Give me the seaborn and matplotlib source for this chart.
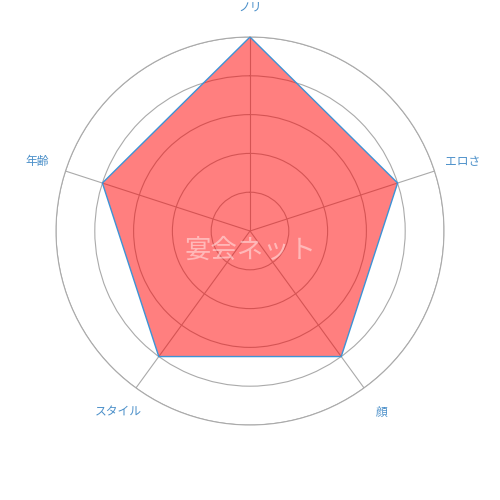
import numpy as np
import matplotlib
matplotlib.use("Agg")
import matplotlib.pyplot as plt
import seaborn as sns

# データ
categories = ["ノリ", "エロさ", "顔", "スタイル", "年齢"]
values = [5, 4, 4, 4, 4]
ring_ticks = [1, 2, 3, 4, 5]
watermark = "宴会ネット"

sns.set_style("white")
plt.rcParams['font.family'] = ['Noto Sans CJK JP', 'DejaVu Sans']

label_color = "#4a8fc9"
grid_color = "#aaaaaa"

fig = plt.figure(figsize=(5, 5), dpi=100)
ax = fig.add_axes([0.112, 0.15, 0.776, 0.776], projection='polar')
ax.set_theta_zero_location('N')
ax.set_theta_direction(-1)

angles = np.linspace(0, 2 * np.pi, len(categories), endpoint=False)
theta = np.concatenate([angles, angles[:1]])
r = np.concatenate([values, values[:1]])

# 塗りつぶしと輪郭
ax.fill(theta, r, color="#ff0000", alpha=0.5, zorder=3, linewidth=0)
ax.plot(theta, r, color="#3d93d6", linewidth=1.0, zorder=4)

ax.set_ylim(0, max(ring_ticks))
ax.set_yticks(ring_ticks)
ax.set_yticklabels([])
ax.set_xticks(angles)
ax.set_xticklabels([])
ax.grid(True, color=grid_color, linewidth=0.8)
ax.spines['polar'].set_color(grid_color)
ax.spines['polar'].set_linewidth(0.8)

# 軸ラベル
for a, name in zip(angles, categories):
    ax.text(a, max(ring_ticks) * 1.155, name, color=label_color, fontsize=8.5,
            ha='center', va='center')

fig.text(0.5, 0.5, watermark, color="white", alpha=0.45, fontsize=19,
         ha='center', va='center')

fig.savefig("out.png", dpi=100)
